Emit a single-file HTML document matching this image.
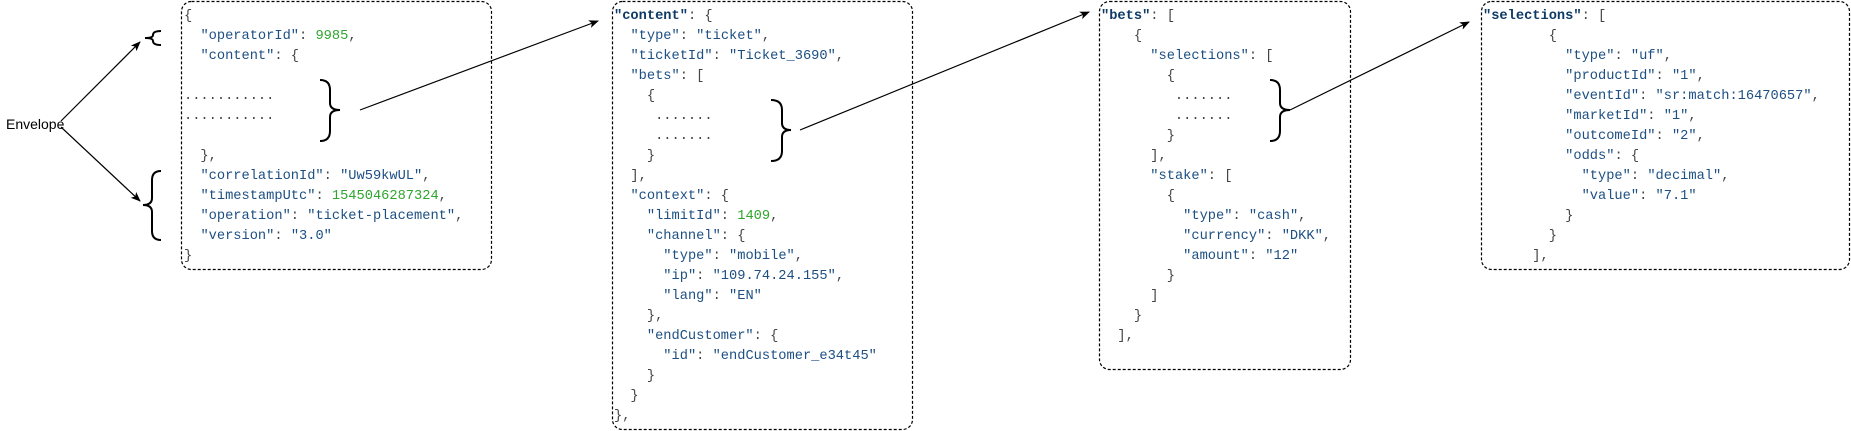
<!DOCTYPE html>
<html><head><meta charset="utf-8"><style>
html,body{margin:0;padding:0;background:#fff;width:1851px;height:431px;overflow:hidden;position:relative}
svg{position:absolute;left:0;top:0}
pre{position:absolute;margin:0;font-family:"Liberation Mono",monospace;font-size:13.7px;line-height:20px;color:#444;top:7px}
.k{color:#1d4f82}.n{color:#2ea52e}.b{color:#0e3a66;font-weight:bold}
.env{position:absolute;left:6px;top:116px;font-family:"Liberation Sans",sans-serif;font-size:14px;color:#000}
</style></head><body>
<svg width="1851" height="431" viewBox="0 0 1851 431">
<defs><marker id="a" markerWidth="10" markerHeight="8" refX="9" refY="4" orient="auto" markerUnits="userSpaceOnUse"><path d="M0,0 L10,4 L0,8 L2.5,4 Z" fill="#000"/></marker></defs>
<g fill="none" stroke="#000" stroke-width="1.2" stroke-dasharray="3,2">
<rect x="181.5" y="1.5" width="310" height="268" rx="10"/>
<rect x="612.5" y="1.5" width="300" height="428" rx="10"/>
<rect x="1099.5" y="1.5" width="251" height="368" rx="10"/>
<rect x="1481.5" y="1.5" width="368" height="268" rx="10"/>
</g>
<g fill="none" stroke="#000" stroke-width="1.2">
<line x1="61" y1="121" x2="140" y2="42" marker-end="url(#a)"/>
<line x1="61" y1="127" x2="140" y2="201" marker-end="url(#a)"/>
<line x1="360" y1="110" x2="598" y2="21" marker-end="url(#a)"/>
<line x1="800" y1="130" x2="1089" y2="12" marker-end="url(#a)"/>
<line x1="1290" y1="110" x2="1469" y2="22" marker-end="url(#a)"/>
</g>
<g fill="none" stroke="#000" stroke-width="2">
<path d="M161,31 Q153,31 153,35 Q153,38 145,38 Q153,38 153,41 Q153,45 161,45"/>
<path d="M161,171 Q152,171 152,180 L152,198 Q152,205 143,205 Q152,205 152,212 L152,231 Q152,240 161,240"/>
<path d="M320,80 Q330,80 330,90 L330,103 Q330,110 340,110 Q330,110 330,117 L330,131 Q330,141 320,141"/>
<path d="M771,100 Q782,100 782,110 L782,123 Q782,130 791,130 Q782,130 782,137 L782,151 Q782,161 771,161"/>
<path d="M1270,80 Q1280,80 1280,90 L1280,103 Q1280,110 1290,110 Q1280,110 1280,117 L1280,131 Q1280,141 1270,141"/>
</g>
</svg>
<div class="env">Envelope</div>
<pre style="left:184px">{
  <span class="k">"operatorId"</span>: <span class="n">9985</span>,
  <span class="k">"content"</span>: {

...........
...........

  },
  <span class="k">"correlationId"</span>: <span class="k">"Uw59kwUL"</span>,
  <span class="k">"timestampUtc"</span>: <span class="n">1545046287324</span>,
  <span class="k">"operation"</span>: <span class="k">"ticket-placement"</span>,
  <span class="k">"version"</span>: <span class="k">"3.0"</span>
}</pre>
<pre style="left:614px"><span class="b">"content"</span>: {
  <span class="k">"type"</span>: <span class="k">"ticket"</span>,
  <span class="k">"ticketId"</span>: <span class="k">"Ticket_3690"</span>,
  <span class="k">"bets"</span>: [
    {
     .......
     .......
    }
  ],
  <span class="k">"context"</span>: {
    <span class="k">"limitId"</span>: <span class="n">1409</span>,
    <span class="k">"channel"</span>: {
      <span class="k">"type"</span>: <span class="k">"mobile"</span>,
      <span class="k">"ip"</span>: <span class="k">"109.74.24.155"</span>,
      <span class="k">"lang"</span>: <span class="k">"EN"</span>
    },
    <span class="k">"endCustomer"</span>: {
      <span class="k">"id"</span>: <span class="k">"endCustomer_e34t45"</span>
    }
  }
},</pre>
<pre style="left:1101px"><span class="b">"bets"</span>: [
    {
      <span class="k">"selections"</span>: [
        {
         .......
         .......
        }
      ],
      <span class="k">"stake"</span>: [
        {
          <span class="k">"type"</span>: <span class="k">"cash"</span>,
          <span class="k">"currency"</span>: <span class="k">"DKK"</span>,
          <span class="k">"amount"</span>: <span class="k">"12"</span>
        }
      ]
    }
  ],</pre>
<pre style="left:1483px"><span class="b">"selections"</span>: [
        {
          <span class="k">"type"</span>: <span class="k">"uf"</span>,
          <span class="k">"productId"</span>: <span class="k">"1"</span>,
          <span class="k">"eventId"</span>: <span class="k">"sr:match:16470657"</span>,
          <span class="k">"marketId"</span>: <span class="k">"1"</span>,
          <span class="k">"outcomeId"</span>: <span class="k">"2"</span>,
          <span class="k">"odds"</span>: {
            <span class="k">"type"</span>: <span class="k">"decimal"</span>,
            <span class="k">"value"</span>: <span class="k">"7.1"</span>
          }
        }
      ],</pre>
</body></html>
